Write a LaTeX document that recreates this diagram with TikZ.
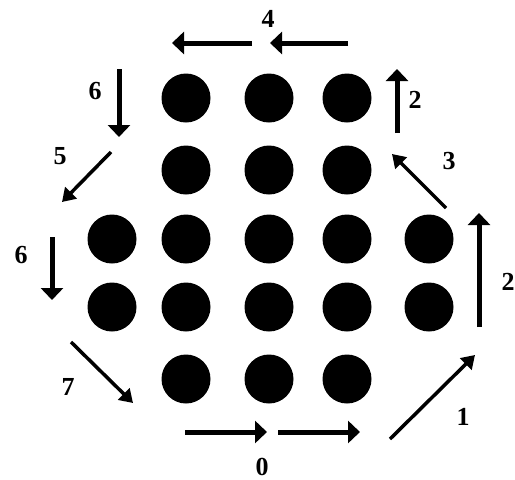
\documentclass[tikz,border=0pt]{standalone}
\usepackage{fontspec}
\setmainfont{Liberation Serif}
\usetikzlibrary{arrows.meta}
\tikzset{
  dot/.style={circle, fill=black, minimum size=49pt, inner sep=0pt},
  lbl/.style={font=\fontsize{26}{30}\selectfont\bfseries, inner sep=0pt},
  heavy/.style={line width=5pt, -{Triangle[width=22pt,length=12pt]}},
  slant/.style={line width=3.5pt, -{Triangle[width=16pt,length=13pt]}}
}
\begin{document}
\begin{tikzpicture}[x=1pt, y=-1pt]
    \useasboundingbox (0,0) rectangle (515,480);

    % Lattice of dots
    \foreach \r/\y/\cols in {1/98/{2,3,4}, 2/170/{2,3,4}, 3/239/{1,2,3,4,5}, 4/307/{1,2,3,4,5}, 5/379/{2,3,4}} {
        \foreach \c in \cols {
            \pgfmathsetmacro\xpos{{112,186,269,347,429}[\c-1]}
            \node[dot] (d-\r-\c) at (\xpos,\y) {};
        }
    }

    % Arrow end points
    \coordinate (s0a) at (185,432); \coordinate (e0a) at (267,432);
    \coordinate (s0b) at (278,432); \coordinate (e0b) at (360,432);
    \coordinate (s1) at (390,439);  \coordinate (e1) at (475,355);
    \coordinate (s2r) at (479,327); \coordinate (e2r) at (479,213);
    \coordinate (s3) at (446,208);  \coordinate (e3) at (392,154);
    \coordinate (s2u) at (397,133); \coordinate (e2u) at (397,69);
    \coordinate (s4a) at (348,43);  \coordinate (e4a) at (270,43);
    \coordinate (s4b) at (252,43);  \coordinate (e4b) at (172,43);
    \coordinate (s6u) at (119,69);  \coordinate (e6u) at (119,137);
    \coordinate (s5) at (111,152);  \coordinate (e5) at (62,202);
    \coordinate (s6l) at (52,237);  \coordinate (e6l) at (52,300);
    \coordinate (s7) at (71,342);   \coordinate (e7) at (133,403);

    % Arrows
    \draw[heavy] (s0a) -- (e0a);
    \draw[heavy] (s0b) -- (e0b);
    \draw[slant] (s1) -- (e1);
    \draw[heavy] (s2r) -- (e2r);
    \draw[slant] (s3) -- (e3);
    \draw[heavy] (s2u) -- (e2u);
    \draw[heavy] (s4a) -- (e4a);
    \draw[heavy] (s4b) -- (e4b);
    \draw[heavy] (s6u) -- (e6u);
    \draw[slant] (s5) -- (e5);
    \draw[heavy] (s6l) -- (e6l);
    \draw[slant] (s7) -- (e7);

    % Direction labels
    \node[lbl] (l0) at (262,467) {0};
    \node[lbl] (l1) at (463,417) {1};
    \node[lbl] (l2r) at (508,282) {2};
    \node[lbl] (l3) at (449,161) {3};
    \node[lbl] (l2u) at (415,100) {2};
    \node[lbl] (l4) at (268,19) {4};
    \node[lbl] (l6u) at (95,91) {6};
    \node[lbl] (l5) at (60,156) {5};
    \node[lbl] (l6l) at (21,255) {6};
    \node[lbl] (l7) at (68,387) {7};
\end{tikzpicture}
\end{document}
